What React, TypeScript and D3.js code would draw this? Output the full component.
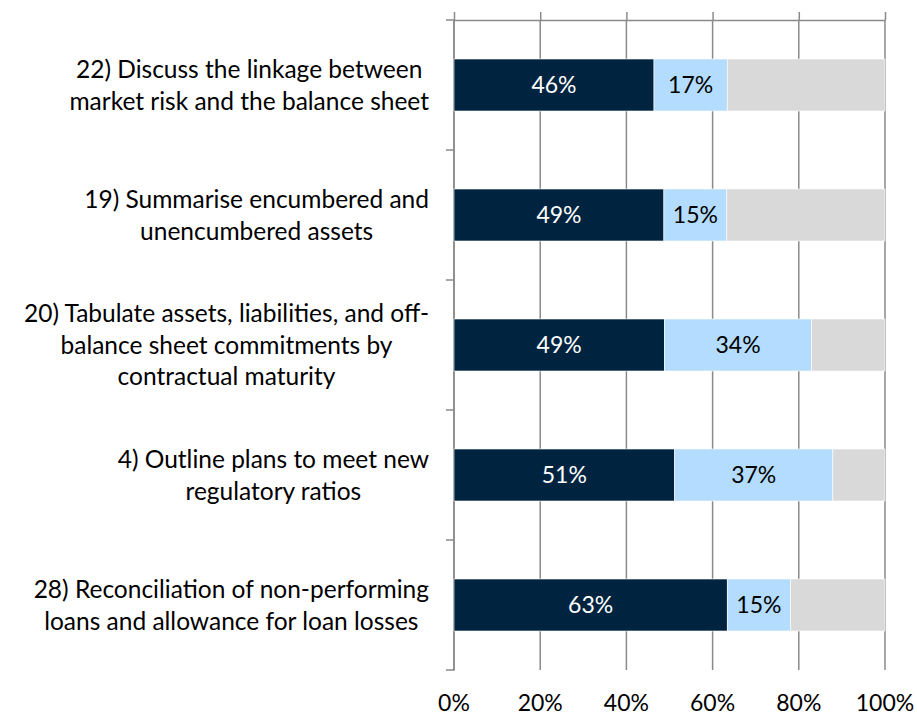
import React, { useEffect, useRef } from 'react'
import * as d3 from 'd3'

const categoryLines = [
  ['22) Discuss the linkage between', 'market risk and the balance sheet'],
  ['19) Summarise encumbered and', 'unencumbered assets'],
  ['20) Tabulate assets, liabilities, and off-', 'balance sheet commitments by', 'contractual maturity'],
  ['4) Outline plans to meet new', 'regulatory ratios'],
  ['28) Reconciliation of non-performing', 'loans and allowance for loan losses']
]
const darkValues = [46.4, 48.7, 48.8, 51.2, 63.4]
const lightValues = [17.0, 14.6, 34.2, 36.7, 14.7]
const greyValues = [36.6, 36.7, 17.0, 12.1, 21.9]
const tickValues = [0, 20, 40, 60, 80, 100]

const W = 917
const H = 716
const FONT = 'Lato, "Open Sans", sans-serif'
const FS = 23
const CAT_FS = 24.5

const App = () => {
  const ref = useRef<SVGSVGElement>(null)

  useEffect(() => {
    const svg = d3.select(ref.current)
    svg.selectAll('*').remove()

    const keys = categoryLines.map((_, i) => String(i))
    const x = d3.scaleLinear().domain([0, 100]).range([454, 885])
    const y = d3.scaleBand().domain(keys).range([20, 670]).paddingInner(0.6).paddingOuter(0.3)
    const step = y.step()

    // vertical gridlines
    svg.append('g')
      .selectAll('line')
      .data(x.ticks(5))
      .enter()
      .append('line')
      .attr('x1', d => x(d)).attr('x2', d => x(d))
      .attr('y1', 20).attr('y2', 670)
      .attr('stroke', '#8a8a8a').attr('stroke-width', 1.5)

    // value axis sits on top, labels at the bottom
    const top = svg.append('g').attr('transform', 'translate(0,20)')
      .call(d3.axisTop(x).tickValues(tickValues).tickSize(8).tickSizeOuter(0).tickFormat(() => ''))
    top.selectAll('path, line').attr('stroke', '#8a8a8a').attr('stroke-width', 1.5)

    svg.append('g')
      .selectAll('text')
      .data(tickValues)
      .enter()
      .append('text')
      .attr('x', d => x(d))
      .attr('y', 711)
      .attr('text-anchor', 'middle')
      .attr('font-family', FONT).attr('font-size', FS)
      .attr('fill', '#000')
      .text(d => `${d}%`)

    // category axis
    const cat = svg.append('g').attr('stroke', '#8a8a8a').attr('stroke-width', 1.5)
    cat.append('line').attr('x1', 454).attr('x2', 454).attr('y1', 20).attr('y2', 670.75)
    cat.selectAll('line.t')
      .data(d3.range(keys.length + 1))
      .enter()
      .append('line')
      .attr('class', 't')
      .attr('x1', 446).attr('x2', 454)
      .attr('y1', i => 20 + i * step).attr('y2', i => 20 + i * step)

    // stacked bars
    const rows = keys.map((k, i) => ({ k, dark: darkValues[i], light: lightValues[i], grey: greyValues[i] }))
    const stack = d3.stack<any>().keys(['dark', 'light', 'grey'])
    const series = stack(rows)
    const colors: Record<string, string> = { dark: '#00243f', light: '#b3dcfe', grey: '#d9d9d9' }
    const textColors: Record<string, string> = { dark: '#ffffff', light: '#000000' }

    series.forEach(s => {
      const g = svg.append('g')
      g.selectAll('rect')
        .data(s)
        .enter()
        .append('rect')
        .attr('x', d => x(d[0]))
        .attr('width', d => x(d[1]) - x(d[0]))
        .attr('y', d => y(d.data.k)!)
        .attr('height', y.bandwidth())
        .attr('fill', colors[s.key])
        .attr('stroke', '#ffffff').attr('stroke-width', 0.6)
      if (s.key !== 'grey') {
        g.selectAll('text')
          .data(s)
          .enter()
          .append('text')
          .attr('x', d => (x(d[0]) + x(d[1])) / 2)
          .attr('y', d => y(d.data.k)! + y.bandwidth() / 2)
          .attr('dy', '0.36em')
          .attr('text-anchor', 'middle')
          .attr('font-family', FONT).attr('font-size', FS)
          .attr('fill', textColors[s.key])
          .text(d => `${Math.round(d[1] - d[0])}%`)
      }
    })

    // category labels: lines centred on each other, block right-aligned
    const lineH = 31.5
    const rightEdge = 429
    categoryLines.forEach((lines, i) => {
      const cy = y(keys[i])! + y.bandwidth() / 2
      const g = svg.append('g')
      const texts = lines.map((ln, j) =>
        g.append('text')
          .attr('y', cy + (j - (lines.length - 1) / 2) * lineH)
          .attr('dy', '0.36em')
          .attr('text-anchor', 'middle')
          .attr('font-family', FONT).attr('font-size', CAT_FS)
          .attr('fill', '#000')
          .text(ln)
      )
      const maxW = d3.max(texts, t => (t.node() as SVGTextElement).getComputedTextLength()) || 0
      texts.forEach(t => t.attr('x', rightEdge - maxW / 2))
    })
  }, [])

  return (
    <svg ref={ref} width={W} height={H} style={{ position: 'absolute', left: 0, top: 0, background: '#fff' }} />
  )
}

export default App
